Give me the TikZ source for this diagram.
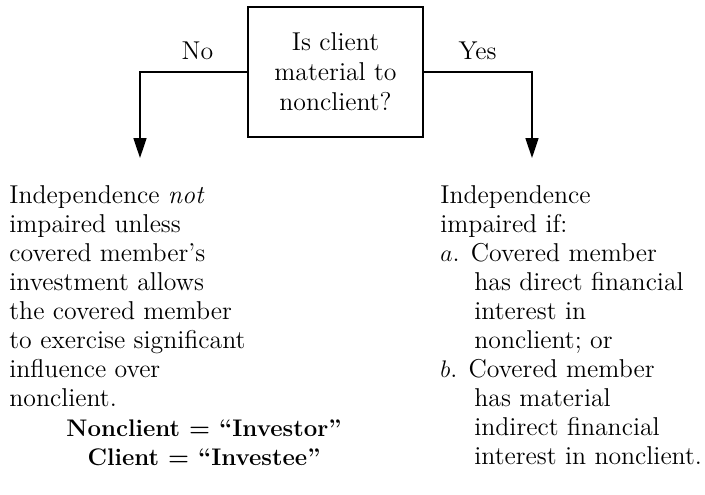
\documentclass[tikz,border=0pt]{standalone}
\usepackage{tikz}
\usetikzlibrary{arrows.meta}

\newcommand{\clauseindent}{\hspace*{17pt}}

\begin{document}
\begin{tikzpicture}[x=0.5pt,y=-0.5pt,>={Triangle[length=10pt,width=6.5pt]}]
  \tikzstyle{question} = [draw, line width=0.8pt, rectangle, minimum width=87.5pt, minimum height=65pt, inner sep=0pt, align=center, font=\fontsize{12.9}{15}\selectfont]
  \tikzstyle{answer} = [inner sep=0pt, font=\fontsize{12.9}{15}\selectfont]
  \tikzstyle{body} = [inner sep=0pt, anchor=north west, align=left, font=\fontsize{12.9}{14.5}\selectfont]
  \tikzstyle{branch} = [black, line width=0.8pt, ->]

  \useasboundingbox (0,0) rectangle (705,494);

  \node[question] (Q) at (335.5,72) {Is client \\ material to \\ nonclient?};
  \node[answer]   (No)  at (197.5,51) {No};
  \node[answer]   (Yes) at (477.5,51) {Yes};

  \coordinate (Nend) at (140,158);
  \coordinate (Yend) at (532,158);

  \draw[branch] (Q.west) -| (Nend);
  \draw[branch] (Q.east) -| (Yend);

  % outcome texts
  \node[body] (N) at (9,185) {Independence \textit{not} \\ impaired unless \\ covered member's \\ investment allows \\ the covered member \\ to exercise significant \\ influence over \\ nonclient.};
  \node[body, anchor=north, align=center, font=\fontsize{12}{14.5}\selectfont\bfseries] (R) at (204,419) {Nonclient = ``Investor'' \\ Client = ``Investee''};

  \node[body] (Y) at (440,185) {Independence \\ impaired if: \\ $a$. Covered member \\ \clauseindent has direct financial \\ \clauseindent interest in \\ \clauseindent nonclient; or \\ $b$. Covered member \\ \clauseindent has material \\ \clauseindent indirect financial \\ \clauseindent interest in nonclient.};

\end{tikzpicture}
\end{document}
